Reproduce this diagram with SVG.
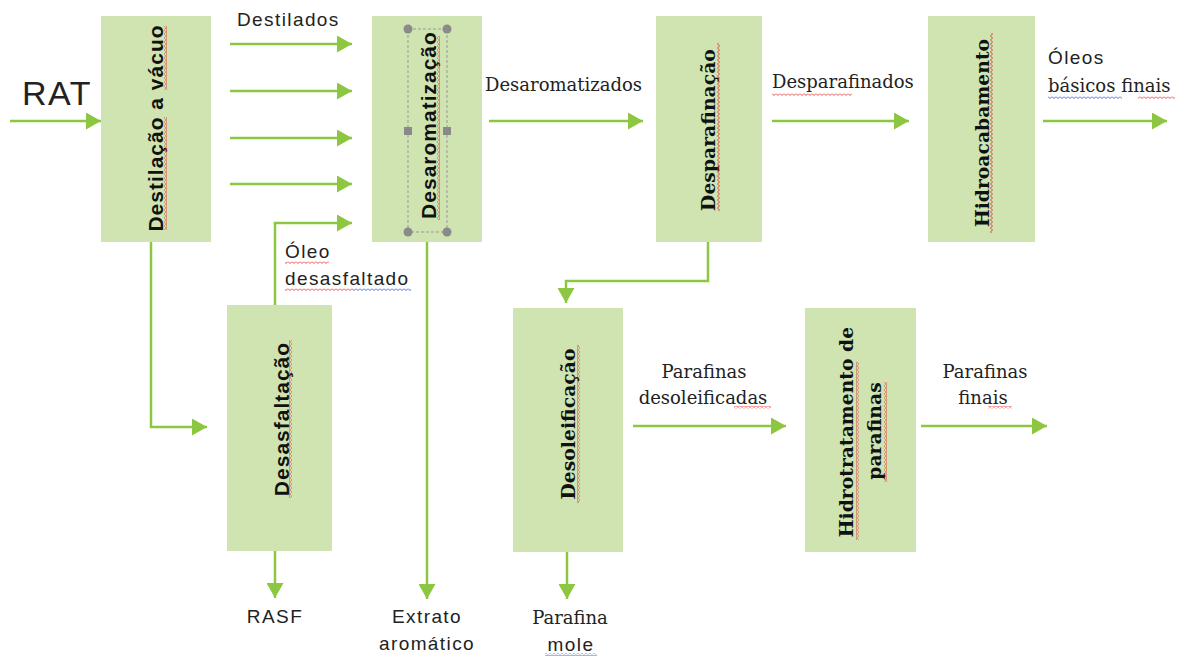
<svg xmlns="http://www.w3.org/2000/svg" width="1181" height="657" viewBox="0 0 1181 657">
<defs>
<marker id="ah" markerUnits="userSpaceOnUse" markerWidth="15" markerHeight="17" refX="15" refY="8.5" orient="auto">
<path d="M0,0 L15,8.5 L0,17 z" fill="#8DC641"/>
</marker>
<pattern id="sqVr" width="3" height="4" patternUnits="userSpaceOnUse"><path d="M0.5,0 L2.5,2 L0.5,4" fill="none" stroke="#e02020" stroke-width="0.8"/></pattern>
<pattern id="sqHr" width="4" height="3" patternUnits="userSpaceOnUse"><path d="M0,0.5 L2,2.5 L4,0.5" fill="none" stroke="#e02020" stroke-width="0.8"/></pattern>
<pattern id="sqHb" width="4" height="3" patternUnits="userSpaceOnUse"><path d="M0,0.5 L2,2.5 L4,0.5" fill="none" stroke="#2040e0" stroke-width="0.8"/></pattern>
</defs>
<style>
.box{fill:#CFE4B1}
.ln{fill:none;stroke:#8DC641;stroke-width:2.5}
.sans{font-family:"Liberation Sans",Arial,sans-serif;fill:#222}
.serif{font-family:"DejaVu Serif","Liberation Serif",serif;fill:#222}
.vs{font-weight:bold;font-size:21px;letter-spacing:1px;fill:#111}
.vr{font-weight:bold;font-size:18.8px;fill:#111}
.ls{font-size:19px;letter-spacing:1.4px}
.lr{font-size:18px}
.h{fill:#8a8a8a}
</style>
<rect width="1181" height="657" fill="#ffffff"/>

<g id="connectors">
<path class="ln" d="M10,121 H101" marker-end="url(#ah)"/>
<path class="ln" d="M230,44 H352" marker-end="url(#ah)"/>
<path class="ln" d="M230,91 H352" marker-end="url(#ah)"/>
<path class="ln" d="M230,138 H352" marker-end="url(#ah)"/>
<path class="ln" d="M230,184 H352" marker-end="url(#ah)"/>
<path class="ln" d="M275,305 V223 H352" marker-end="url(#ah)"/>
<path class="ln" d="M151,242 V427 H207" marker-end="url(#ah)"/>
<path class="ln" d="M275,551 V598" marker-end="url(#ah)"/>
<path class="ln" d="M427,242 V599" marker-end="url(#ah)"/>
<path class="ln" d="M489,121 H643" marker-end="url(#ah)"/>
<path class="ln" d="M772,121 H909" marker-end="url(#ah)"/>
<path class="ln" d="M1043,121 H1167" marker-end="url(#ah)"/>
<path class="ln" d="M708,242 V281 H566 V303" marker-end="url(#ah)"/>
<path class="ln" d="M567,552 V599" marker-end="url(#ah)"/>
<path class="ln" d="M633,426 H786" marker-end="url(#ah)"/>
<path class="ln" d="M921,426 H1047" marker-end="url(#ah)"/>
</g>

<g id="destilacao">
<rect class="box" x="101" y="16" width="110" height="226"/>
<text class="sans vs" transform="translate(163,128) rotate(-90)" text-anchor="middle">Destilação a vácuo</text>
<rect x="164" y="26" width="3" height="64" fill="url(#sqVr)"/>
<rect x="164" y="117" width="3" height="113" fill="url(#sqVr)"/>
</g>

<g id="desaromatizacao">
<rect class="box" x="372" y="16" width="110" height="226"/>
<text class="sans vs" transform="translate(436,125) rotate(-90)" text-anchor="middle">Desaromatização</text>
<rect x="437" y="36" width="3" height="184" fill="url(#sqVr)"/>
<rect x="408" y="29" width="39" height="203" fill="none" stroke="#999" stroke-width="1" stroke-dasharray="3,2"/>
<circle class="h" cx="408" cy="29" r="4.5"/>
<circle class="h" cx="447" cy="29" r="4.5"/>
<circle class="h" cx="408" cy="232" r="4.5"/>
<circle class="h" cx="447" cy="232" r="4.5"/>
<rect class="h" x="404" y="127" width="8" height="8"/>
<rect class="h" x="443" y="127" width="8" height="8"/>
</g>

<g id="desparafinacao">
<rect class="box" x="656" y="16" width="106" height="226"/>
<text class="serif vr" transform="translate(715,130) rotate(-90)" text-anchor="middle">Desparafinação</text>
<rect x="717" y="43" width="3" height="168" fill="url(#sqVr)"/>
</g>

<g id="hidroacabamento">
<rect class="box" x="928" y="16" width="107" height="226"/>
<text class="serif vr" transform="translate(989,133) rotate(-90)" text-anchor="middle">Hidroacabamento</text>
<rect x="990" y="33" width="3" height="200" fill="url(#sqVr)"/>
</g>

<g id="desasfaltacao">
<rect class="box" x="227" y="305" width="105" height="246"/>
<text class="sans vs" transform="translate(289,419) rotate(-90)" text-anchor="middle">Desasfaltação</text>
<rect x="289" y="340" width="3" height="158" fill="url(#sqVr)"/>
</g>

<g id="desoleificacao">
<rect class="box" x="513" y="308" width="110" height="244"/>
<text class="serif vr" transform="translate(575,424) rotate(-90)" text-anchor="middle">Desoleificação</text>
<rect x="577" y="345" width="3" height="158" fill="url(#sqVr)"/>
</g>

<g id="hidrotratamento">
<rect class="box" x="805" y="308" width="111" height="244"/>
<text class="serif vr" transform="translate(853,432) rotate(-90)" text-anchor="middle">Hidrotratamento de</text>
<text class="serif vr" transform="translate(881,431) rotate(-90)" text-anchor="middle">parafinas</text>
<rect x="856" y="362" width="3" height="178" fill="url(#sqVr)"/>
<rect x="884" y="382" width="3" height="100" fill="url(#sqVr)"/>
</g>

<g id="labels">
<text class="sans" x="22" y="105" font-size="34" letter-spacing="1.5">RAT</text>
<text class="sans ls" x="237" y="26">Destilados</text>
<text class="serif lr" x="485" y="91">Desaromatizados</text>
<text class="serif lr" x="772" y="88">Desparafinados</text>
<rect x="772" y="93" width="80" height="3" fill="url(#sqHr)"/>
<text class="sans ls" x="1048" y="64">Óleos</text>
<text class="serif lr" x="1048" y="92">básicos finais</text>
<rect x="1048" y="96" width="74" height="3" fill="url(#sqHb)"/>
<rect x="1138" y="96" width="37" height="3" fill="url(#sqHr)"/>
<text class="sans ls" x="285" y="258">Óleo</text>
<rect x="285" y="261" width="44" height="3" fill="url(#sqHr)"/>
<text class="sans ls" x="285" y="285">desasfaltado</text>
<rect x="285" y="288" width="68" height="3" fill="url(#sqHr)"/>
<rect x="353" y="288" width="58" height="3" fill="url(#sqHb)"/>
<text class="sans ls" x="275" y="623" text-anchor="middle">RASF</text>
<text class="sans ls" x="427" y="623" text-anchor="middle">Extrato</text>
<text class="sans ls" x="427" y="650" text-anchor="middle">aromático</text>
<text class="serif lr" x="570" y="624" text-anchor="middle">Parafina</text>
<text class="sans ls" x="571" y="651" text-anchor="middle">mole</text>
<rect x="545" y="653" width="52" height="3" fill="url(#sqHb)"/>
<text class="serif lr" x="704" y="378" text-anchor="middle">Parafinas</text>
<text class="serif lr" x="703" y="404" text-anchor="middle">desoleificadas</text>
<rect x="734" y="406" width="37" height="3" fill="url(#sqHr)"/>
<text class="serif lr" x="985" y="378" text-anchor="middle">Parafinas</text>
<text class="serif lr" x="983" y="404" text-anchor="middle">finais</text>
<rect x="988" y="406" width="24" height="3" fill="url(#sqHr)"/>
</g>
</svg>
